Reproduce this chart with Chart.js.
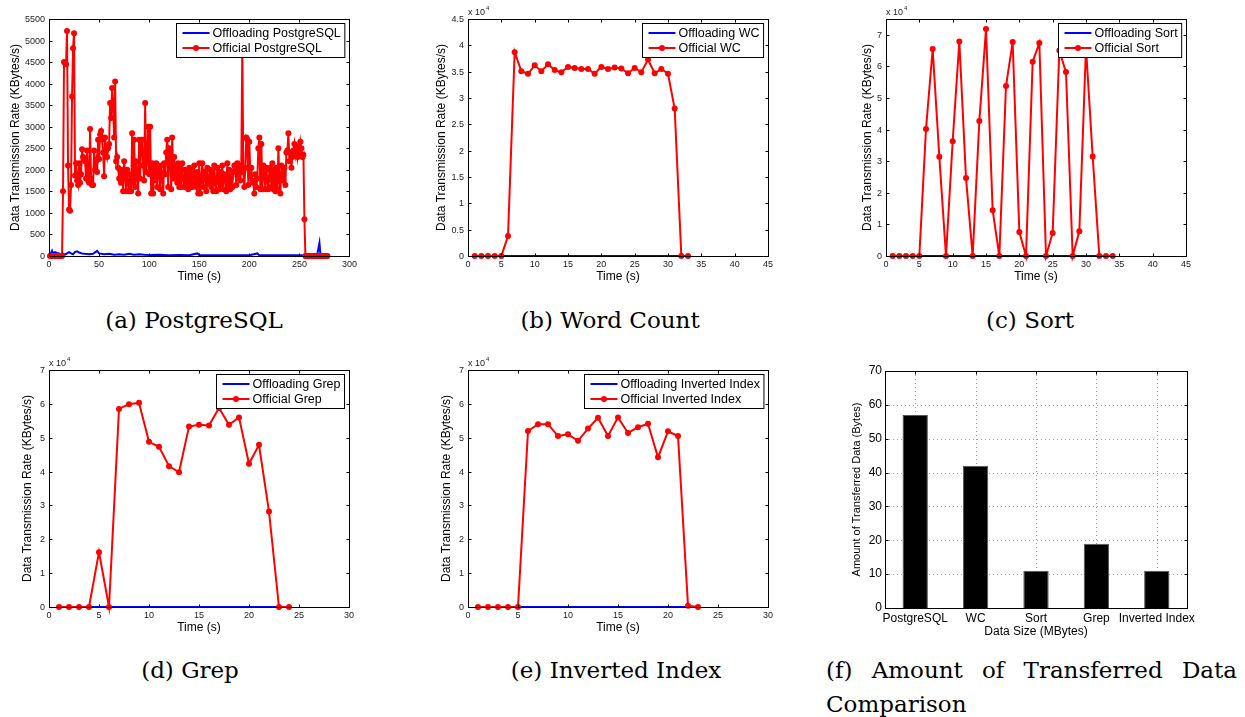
<!DOCTYPE html>
<html>
<head>
<meta charset="utf-8">
<script src="https://cdn.jsdelivr.net/npm/chart.js"></script>
<style>
  body { margin: 0; background: #fff; width: 1245px; height: 717px; position: relative; overflow: hidden; }
  canvas { position: absolute; }
  .cap { position: absolute; font-family: "DejaVu Serif", serif; font-size: 23px; line-height: 30px; text-align: center; color: #000; white-space: nowrap; }
  .capf { text-align: justify; text-align-last: justify; }
  .capl { text-align: left; }
  .ytick { position: absolute; z-index: 5; font-family: "Liberation Sans", Arial, sans-serif; font-size: 9px; line-height: 10px; color: #222; white-space: nowrap; text-align: right; }
</style>
</head>
<body>
<canvas id="pg" width="360" height="300" style="left:0;top:0"></canvas>
<canvas id="wc" width="360" height="300" style="left:420px;top:0"></canvas>
<canvas id="sort" width="360" height="300" style="left:840px;top:0"></canvas>
<canvas id="grep" width="360" height="300" style="left:0;top:350px"></canvas>
<canvas id="inv" width="360" height="300" style="left:420px;top:350px"></canvas>
<canvas id="amount" width="400" height="300" style="left:840px;top:350px"></canvas>

<div class="cap" style="left:0;width:388px;top:305px">(a) PostgreSQL</div>
<div class="cap" style="left:410px;width:400px;top:305px">(b) Word Count</div>
<div class="cap" style="left:830px;width:400px;top:305px">(c) Sort</div>
<div class="cap" style="left:0;width:380px;top:655px">(d) Grep</div>
<div class="cap" style="left:416px;width:400px;top:655px">(e) Inverted Index</div>
<div class="cap capf" style="left:826px;width:411px;top:655px">(f) Amount of Transferred Data</div>
<div class="cap capl" style="left:826px;top:689px">Comparison</div>

<script>
// ---- data (time in seconds, rate in KBytes/s) ----

// PostgreSQL, one sample per second starting at t = 1
const pgOfficial = [
  0, 0, 0, 0, 0, 0, 0, 0, 0, 0, 0, 0, 0,
  1500, 4500, 4480, 4450, 5220, 2100, 1080, 1050, 1650, 3700,
  4820, 5170, 1870, 2150, 1750, 1650, 2150, 1700, 1900, 2480,
  2300, 2250, 2200, 1800, 2450, 1750, 1700, 2950, 1800, 1650,
  1650, 2450, 2000, 2200, 1950, 2700, 2250, 2820, 2900, 2700,
  2400, 1850, 2750, 2450, 2300, 2500, 2600, 3550, 3200, 3900,
  3550, 2750, 4050, 2200, 2300, 2050, 1800, 2000, 1700, 2000,
  1500, 2200, 1900, 1500, 2000, 1700, 1500, 1900, 1500, 2850,
  1700, 2700, 1600, 2200, 1850, 1450, 2700, 1800, 2700, 2700,
  2100, 1750, 3550, 1950, 2200, 3000, 1900, 3000, 1450, 2150,
  1450, 2100, 1750, 2150, 1600, 2050, 1950, 1550, 2100, 1900,
  1450, 2150, 1900, 2400, 2700, 1600, 2500, 2450, 1550, 2750,
  1800, 2300, 1900, 2100, 1700, 2150, 1600, 2100, 1600, 2150,
  1800, 1600, 2000, 1700, 1900, 1550, 2050, 1600, 2000, 1600,
  1850, 2100, 1700, 1600, 1950, 1450, 2150, 1450, 1750, 2150,
  1600, 1950, 1900, 1500, 2050, 1700, 1800, 2000, 1600, 1900,
  1500, 2100, 1700, 1500, 2050, 1800, 1550, 1950, 1650, 2100,
  1550, 1900, 1850, 1500, 2150, 1600, 2000, 1550, 1850, 1600,
  1950, 2100, 2050, 1650, 2150, 1900, 2050, 1750, 2100, 4900,
  1950, 1600, 2050, 2750, 2700, 1650, 2650, 1850, 2050, 1750,
  1700, 1450, 1900, 1600, 1800, 2500, 2750, 1550, 2600, 1550,
  2100, 1900, 1550, 2050, 1750, 1550, 2000, 2050, 1600, 2150,
  1550, 2000, 1500, 2050, 1550, 2500, 1750, 1450, 2100, 1900,
  1750, 2050, 1650, 2400, 2450, 2850, 2200, 2400, 2050, 2300,
  2450, 2600, 2350, 2500, 2300, 2550, 2400, 2650, 2500, 2300,
  2350, 850,
  0, 0, 0, 0, 0, 0, 0, 0, 0, 0, 0, 0, 0, 0, 0, 0, 0, 0, 0, 0, 0, 0, 0
];
const pgOffloadTime = [1, 3, 4, 6, 8, 10, 12, 14, 16, 18, 20, 22, 24, 26, 28, 30, 33, 36, 40, 44,
  48, 50, 55, 60, 65, 70, 75, 80, 85, 90, 95, 100, 110, 120, 130, 140, 148, 150, 160, 170,
  180, 190, 200, 208, 210, 220, 230, 240, 250, 260, 266, 268, 270, 271, 274, 278];
const pgOffloadRate = [20, 120, 60, 90, 70, 60, 40, 50, 30, 60, 90, 60, 40, 90, 110, 80, 60, 50, 40, 50,
  120, 60, 40, 50, 30, 40, 30, 50, 30, 40, 30, 25, 30, 20, 25, 20, 60, 25, 20, 15,
  20, 15, 20, 60, 20, 15, 20, 15, 15, 10, 20, 60, 300, 30, 20, 10];
const pgTimeTicks = [0, 50, 100, 150, 200, 250, 300];
const pgRateTicks = [0, 500, 1000, 1500, 2000, 2500, 3000, 3500, 4000, 4500, 5000, 5500];

// Word Count, t = 1..33
const wcOfficial = [0, 0, 0, 0, 0, 3800, 38700, 35100, 34600, 36200, 35100, 36400, 35300, 34900, 35900,
  35700, 35500, 35500, 34600, 35900, 35500, 35800, 35600, 34700, 35700, 34900, 37300, 34700, 35500,
  34600, 28000, 0, 0];
const wcOffloadTime = [1, 32];
const wcOffloadRate = [0, 0];
const wcTimeTicks = [0, 5, 10, 15, 20, 25, 30, 35, 40, 45];
const wcRateTicks = [0, 5000, 10000, 15000, 20000, 25000, 30000, 35000, 40000, 45000];

// Sort, t = 1..34
const sortOfficial = [0, 0, 0, 0, 0, 40200, 65500, 31400, 0, 36300, 67900, 24700, 0, 42700, 71800,
  14500, 0, 53800, 67700, 7600, 0, 61500, 67400, 0, 7300, 65000, 58200, 0, 7800, 66000, 31500, 0, 0, 0];
const sortOffloadTime = [1, 32];
const sortOffloadRate = [0, 0];
const sortTimeTicks = [0, 5, 10, 15, 20, 25, 30, 35, 40, 45];
const sortRateTicks = [0, 10000, 20000, 30000, 40000, 50000, 60000, 70000];

// Grep, t = 1..24
const grepOfficial = [0, 0, 0, 0, 16200, 0, 58500, 59900, 60300, 48800, 47300, 41600, 39800, 53300,
  53800, 53600, 58800, 53800, 56000, 42300, 47900, 28200, 0, 0];
const grepOffloadTime = [1, 23];
const grepOffloadRate = [0, 0];
const grepTimeTicks = [0, 5, 10, 15, 20, 25, 30];
const grepRateTicks = [0, 10000, 20000, 30000, 40000, 50000, 60000, 70000];

// Inverted Index, t = 1..23
const invOfficial = [0, 0, 0, 0, 0, 52000, 54000, 54000, 50500, 51000, 49100, 52700, 55900, 50500,
  56000, 51400, 53100, 54100, 44200, 51900, 50500, 400, 0];
const invOffloadTime = [1, 22];
const invOffloadRate = [0, 0];
const invTimeTicks = [0, 5, 10, 15, 20, 25, 30];
const invRateTicks = [0, 10000, 20000, 30000, 40000, 50000, 60000, 70000];

// (f) amount of transferred data
const workloads = ['PostgreSQL', 'WC', 'Sort', 'Grep', 'Inverted Index'];
const transferred = [57, 42, 11, 19, 11];
const amountTicks = [0, 10, 20, 30, 40, 50, 60, 70];

// ---- drawing ----
const FONT = '"Liberation Sans", Arial, Helvetica, sans-serif';
Chart.defaults.font.family = FONT;

function line(ctx, x1, y1, x2, y2) {
  ctx.beginPath();
  ctx.moveTo(x1, y1);
  ctx.lineTo(x2, y2);
  ctx.stroke();
}

// matlab look: box, inward ticks on all four sides, boxed legend, "x 10^4" label.
// settings are kept in the closure so they do not go through chart option resolving
function makeBox(o) {
  const xPixels = chart => {
    const x = chart.scales.x;
    return o.xTicks ? o.xTicks.map(v => x.getPixelForValue(v)) : x.ticks.map((t, i) => x.getPixelForTick(i));
  };
  const yPixels = chart => o.yTicks.map(v => chart.scales.y.getPixelForValue(v));

  return {
    id: 'matlabBox',
    beforeDatasetsDraw(chart) {
      if (!o.grid) return;
      const { ctx, chartArea: a } = chart;
      ctx.save();
      ctx.strokeStyle = '#a0a0a0';
      ctx.lineWidth = 1;
      ctx.setLineDash([1, 3]);
      xPixels(chart).forEach(p => {
        const px = Math.round(p) + 0.5;
        line(ctx, px, a.top, px, a.bottom);
      });
      yPixels(chart).forEach(p => {
        const py = Math.round(p) + 0.5;
        line(ctx, a.left, py, a.right, py);
      });
      ctx.restore();
    },
    afterDraw(chart) {
      const { ctx, chartArea: a } = chart;
      ctx.save();
      ctx.strokeStyle = '#000';
      ctx.lineWidth = 1;
      const L = Math.round(a.left) + 0.5, R = Math.round(a.right) + 0.5;
      const T = Math.round(a.top) + 0.5, B = Math.round(a.bottom) + 0.5;
      xPixels(chart).forEach(p => {
        const px = Math.round(p) + 0.5;
        line(ctx, px, B, px, B - 3);
        line(ctx, px, T, px, T + 3);
      });
      const yp = yPixels(chart);
      yp.forEach(p => {
        const py = Math.round(p) + 0.5;
        line(ctx, L, py, L + 3, py);
        line(ctx, R, py, R - 3, py);
      });
      ctx.strokeRect(L, T, R - L, B - T);

      // y tick labels on the canvas (only when asked, the rate charts use html labels)
      if (o.canvasLabels) {
        ctx.fillStyle = o.labelColor || '#222';
        ctx.font = (o.labelSize || 9) + 'px ' + FONT;
        ctx.textAlign = 'right';
        ctx.textBaseline = 'middle';
        o.yTicks.forEach((v, i) => {
          ctx.fillText(o.yfmt(v), a.left - (o.labelGap || 4), yp[i]);
        });
        ctx.textAlign = 'left';
      }

      if (o.exponent) {
        ctx.fillStyle = '#222';
        ctx.font = '9px ' + FONT;
        ctx.textBaseline = 'alphabetic';
        ctx.fillText('x 10', a.left, a.top - 4);
        const w = ctx.measureText('x 10').width;
        ctx.font = '6px ' + FONT;
        ctx.fillText(o.exponent, a.left + w + 1, a.top - 9);
      }

      if (o.legend) {
        ctx.font = '12.5px ' + FONT;
        const tw = Math.max(...o.legend.map(it => ctx.measureText(it.text).width));
        const w = 6 + 27 + 3 + tw + 4;
        const h = 34;
        const bx = Math.round(a.right - 5 - w) + 0.5, by = Math.round(a.top + 4) + 0.5;
        ctx.fillStyle = '#fff';
        ctx.fillRect(bx, by, w, h);
        ctx.strokeStyle = '#000';
        ctx.strokeRect(bx, by, w, h);
        o.legend.forEach((it, i) => {
          const cy = by + 9.5 + i * 15;
          ctx.strokeStyle = it.color;
          ctx.lineWidth = 2;
          line(ctx, bx + 6, cy, bx + 33, cy);
          if (it.marker) {
            ctx.fillStyle = it.color;
            ctx.beginPath();
            ctx.arc(bx + 19.5, cy, 3, 0, Math.PI * 2);
            ctx.fill();
          }
          ctx.fillStyle = '#000';
          ctx.textBaseline = 'middle';
          ctx.fillText(it.text, bx + 36, cy + 0.5);
        });
      }
      ctx.restore();
    }
  };
}

// y tick labels as page text, placed from the chart's own y scale
function htmlYLabels(chart, canvas, ticks, fmt) {
  const a = chart.chartArea, y = chart.scales.y;
  const left = canvas.offsetLeft, top = canvas.offsetTop;
  ticks.forEach(v => {
    const d = document.createElement('div');
    d.className = 'ytick';
    d.textContent = fmt(v);
    d.style.width = '40px';
    d.style.left = (left + a.left - 4 - 40) + 'px';
    d.style.top = (top + y.getPixelForValue(v) - 5) + 'px';
    document.body.appendChild(d);
  });
}

function perSecond(values) {
  return values.map((v, i) => ({ x: i + 1, y: v }));
}

function pairs(times, values) {
  return times.map((t, i) => ({ x: t, y: values[i] }));
}

function fixedTicks(values) {
  return scale => { scale.ticks = values.map(v => ({ value: v })); };
}

const noGrid = { display: false, drawTicks: false, tickLength: 0 };

function rateChart(id, c) {
  const yfmt = c.exponent ? (v => String(+(v / 1e4).toFixed(1))) : (v => String(v));
  const xt = c.xTicks, yt = c.yTicks;
  const canvas = document.getElementById(id);
  const chart = new Chart(canvas, {
    type: 'line',
    data: {
      datasets: [
        {
          label: c.names[1], data: c.official,
          borderColor: '#ff0000', backgroundColor: '#ff0000', borderWidth: 2,
          pointRadius: 3, pointBorderWidth: 0, pointBackgroundColor: '#ff0000',
          tension: 0, clip: false
        },
        {
          label: c.names[0], data: c.offload,
          borderColor: '#0000ff', borderWidth: 2, pointRadius: 0, tension: 0, clip: false
        }
      ]
    },
    options: {
      responsive: false, animation: false, events: [],
      layout: { padding: { left: 0, top: c.top, right: c.right, bottom: 0 } },
      plugins: { legend: { display: false }, tooltip: { enabled: false } },
      scales: {
        x: {
          type: 'linear', min: xt[0], max: xt[xt.length - 1],
          grid: noGrid, border: { display: false },
          ticks: { autoSkip: false, maxRotation: 0, padding: 3, color: '#222', font: { size: 9 } },
          afterBuildTicks: fixedTicks(xt),
          title: { display: true, text: 'Time (s)', color: '#000', font: { size: 12 }, padding: { bottom: c.xtitle } },
          afterFit: s => { s.height = c.xh; }
        },
        y: {
          type: 'linear', min: 0, max: c.ymax,
          grid: noGrid, border: { display: false },
          ticks: { display: false, autoSkip: false },
          afterBuildTicks: fixedTicks(yt),
          title: { display: true, text: 'Data Transmission Rate (KBytes/s)', color: '#000', font: { size: 12 }, padding: { top: c.ytitle } },
          afterFit: s => { s.width = c.yw; }
        }
      }
    },
    plugins: [makeBox({
      exponent: c.exponent, yfmt: yfmt, xTicks: xt, yTicks: yt,
      legend: [
        { text: c.names[0], color: '#0000ff', marker: false },
        { text: c.names[1], color: '#ff0000', marker: true }
      ]
    })]
  });
  htmlYLabels(chart, canvas, yt, yfmt);
  return chart;
}

rateChart('pg', {
  names: ['Offloading PostgreSQL', 'Official PostgreSQL'],
  official: perSecond(pgOfficial), offload: pairs(pgOffloadTime, pgOffloadRate),
  xTicks: pgTimeTicks, yTicks: pgRateTicks, ymax: 5500,
  top: 19, right: 10, yw: 49, xh: 44, ytitle: 8, xtitle: 16
});
rateChart('wc', {
  names: ['Offloading WC', 'Official WC'],
  official: perSecond(wcOfficial), offload: pairs(wcOffloadTime, wcOffloadRate),
  xTicks: wcTimeTicks, yTicks: wcRateTicks, ymax: 45000, exponent: '4',
  top: 19, right: 12, yw: 48, xh: 44, ytitle: 14.5, xtitle: 16
});
rateChart('sort', {
  names: ['Offloading Sort', 'Official Sort'],
  official: perSecond(sortOfficial), offload: pairs(sortOffloadTime, sortOffloadRate),
  xTicks: sortTimeTicks, yTicks: sortRateTicks, ymax: 75000, exponent: '4',
  top: 19, right: 14, yw: 46, xh: 44, ytitle: 20, xtitle: 16
});
rateChart('grep', {
  names: ['Offloading Grep', 'Official Grep'],
  official: perSecond(grepOfficial), offload: pairs(grepOffloadTime, grepOffloadRate),
  xTicks: grepTimeTicks, yTicks: grepRateTicks, ymax: 70000, exponent: '4',
  top: 20, right: 11, yw: 49, xh: 43, ytitle: 20, xtitle: 15
});
rateChart('inv', {
  names: ['Offloading Inverted Index', 'Official Inverted Index'],
  official: perSecond(invOfficial), offload: pairs(invOffloadTime, invOffloadRate),
  xTicks: invTimeTicks, yTicks: invRateTicks, ymax: 70000, exponent: '4',
  top: 20, right: 12, yw: 48, xh: 43, ytitle: 19, xtitle: 15
});

new Chart(document.getElementById('amount'), {
  type: 'bar',
  data: {
    labels: workloads,
    datasets: [{
      data: transferred, backgroundColor: '#000', borderColor: '#555', borderWidth: 1,
      barPercentage: 0.42, categoryPercentage: 1
    }]
  },
  options: {
    responsive: false, animation: false, events: [],
    layout: { padding: { left: 0, top: 21, right: 53, bottom: 0 } },
    plugins: { legend: { display: false }, tooltip: { enabled: false } },
    scales: {
      x: {
        type: 'category', offset: true,
        grid: noGrid, border: { display: false },
        ticks: { autoSkip: false, maxRotation: 0, padding: 3, color: '#000', font: { size: 12 } },
        title: { display: true, text: 'Data Size (MBytes)', color: '#000', font: { size: 12 }, padding: { bottom: 11 } },
        afterFit: s => { s.height = 42; }
      },
      y: {
        type: 'linear', min: 0, max: 70,
        grid: noGrid, border: { display: false },
        ticks: { display: false },
        afterBuildTicks: fixedTicks(amountTicks),
        title: { display: true, text: 'Amount of Transferred Data (Bytes)', color: '#000', font: { size: 11 }, padding: { top: 10 } },
        afterFit: s => { s.width = 45; }
      }
    }
  },
  plugins: [makeBox({ grid: true, canvasLabels: true, yTicks: amountTicks, yfmt: v => String(v), labelColor: '#000', labelSize: 12, labelGap: 3 })]
});
</script>
</body>
</html>
